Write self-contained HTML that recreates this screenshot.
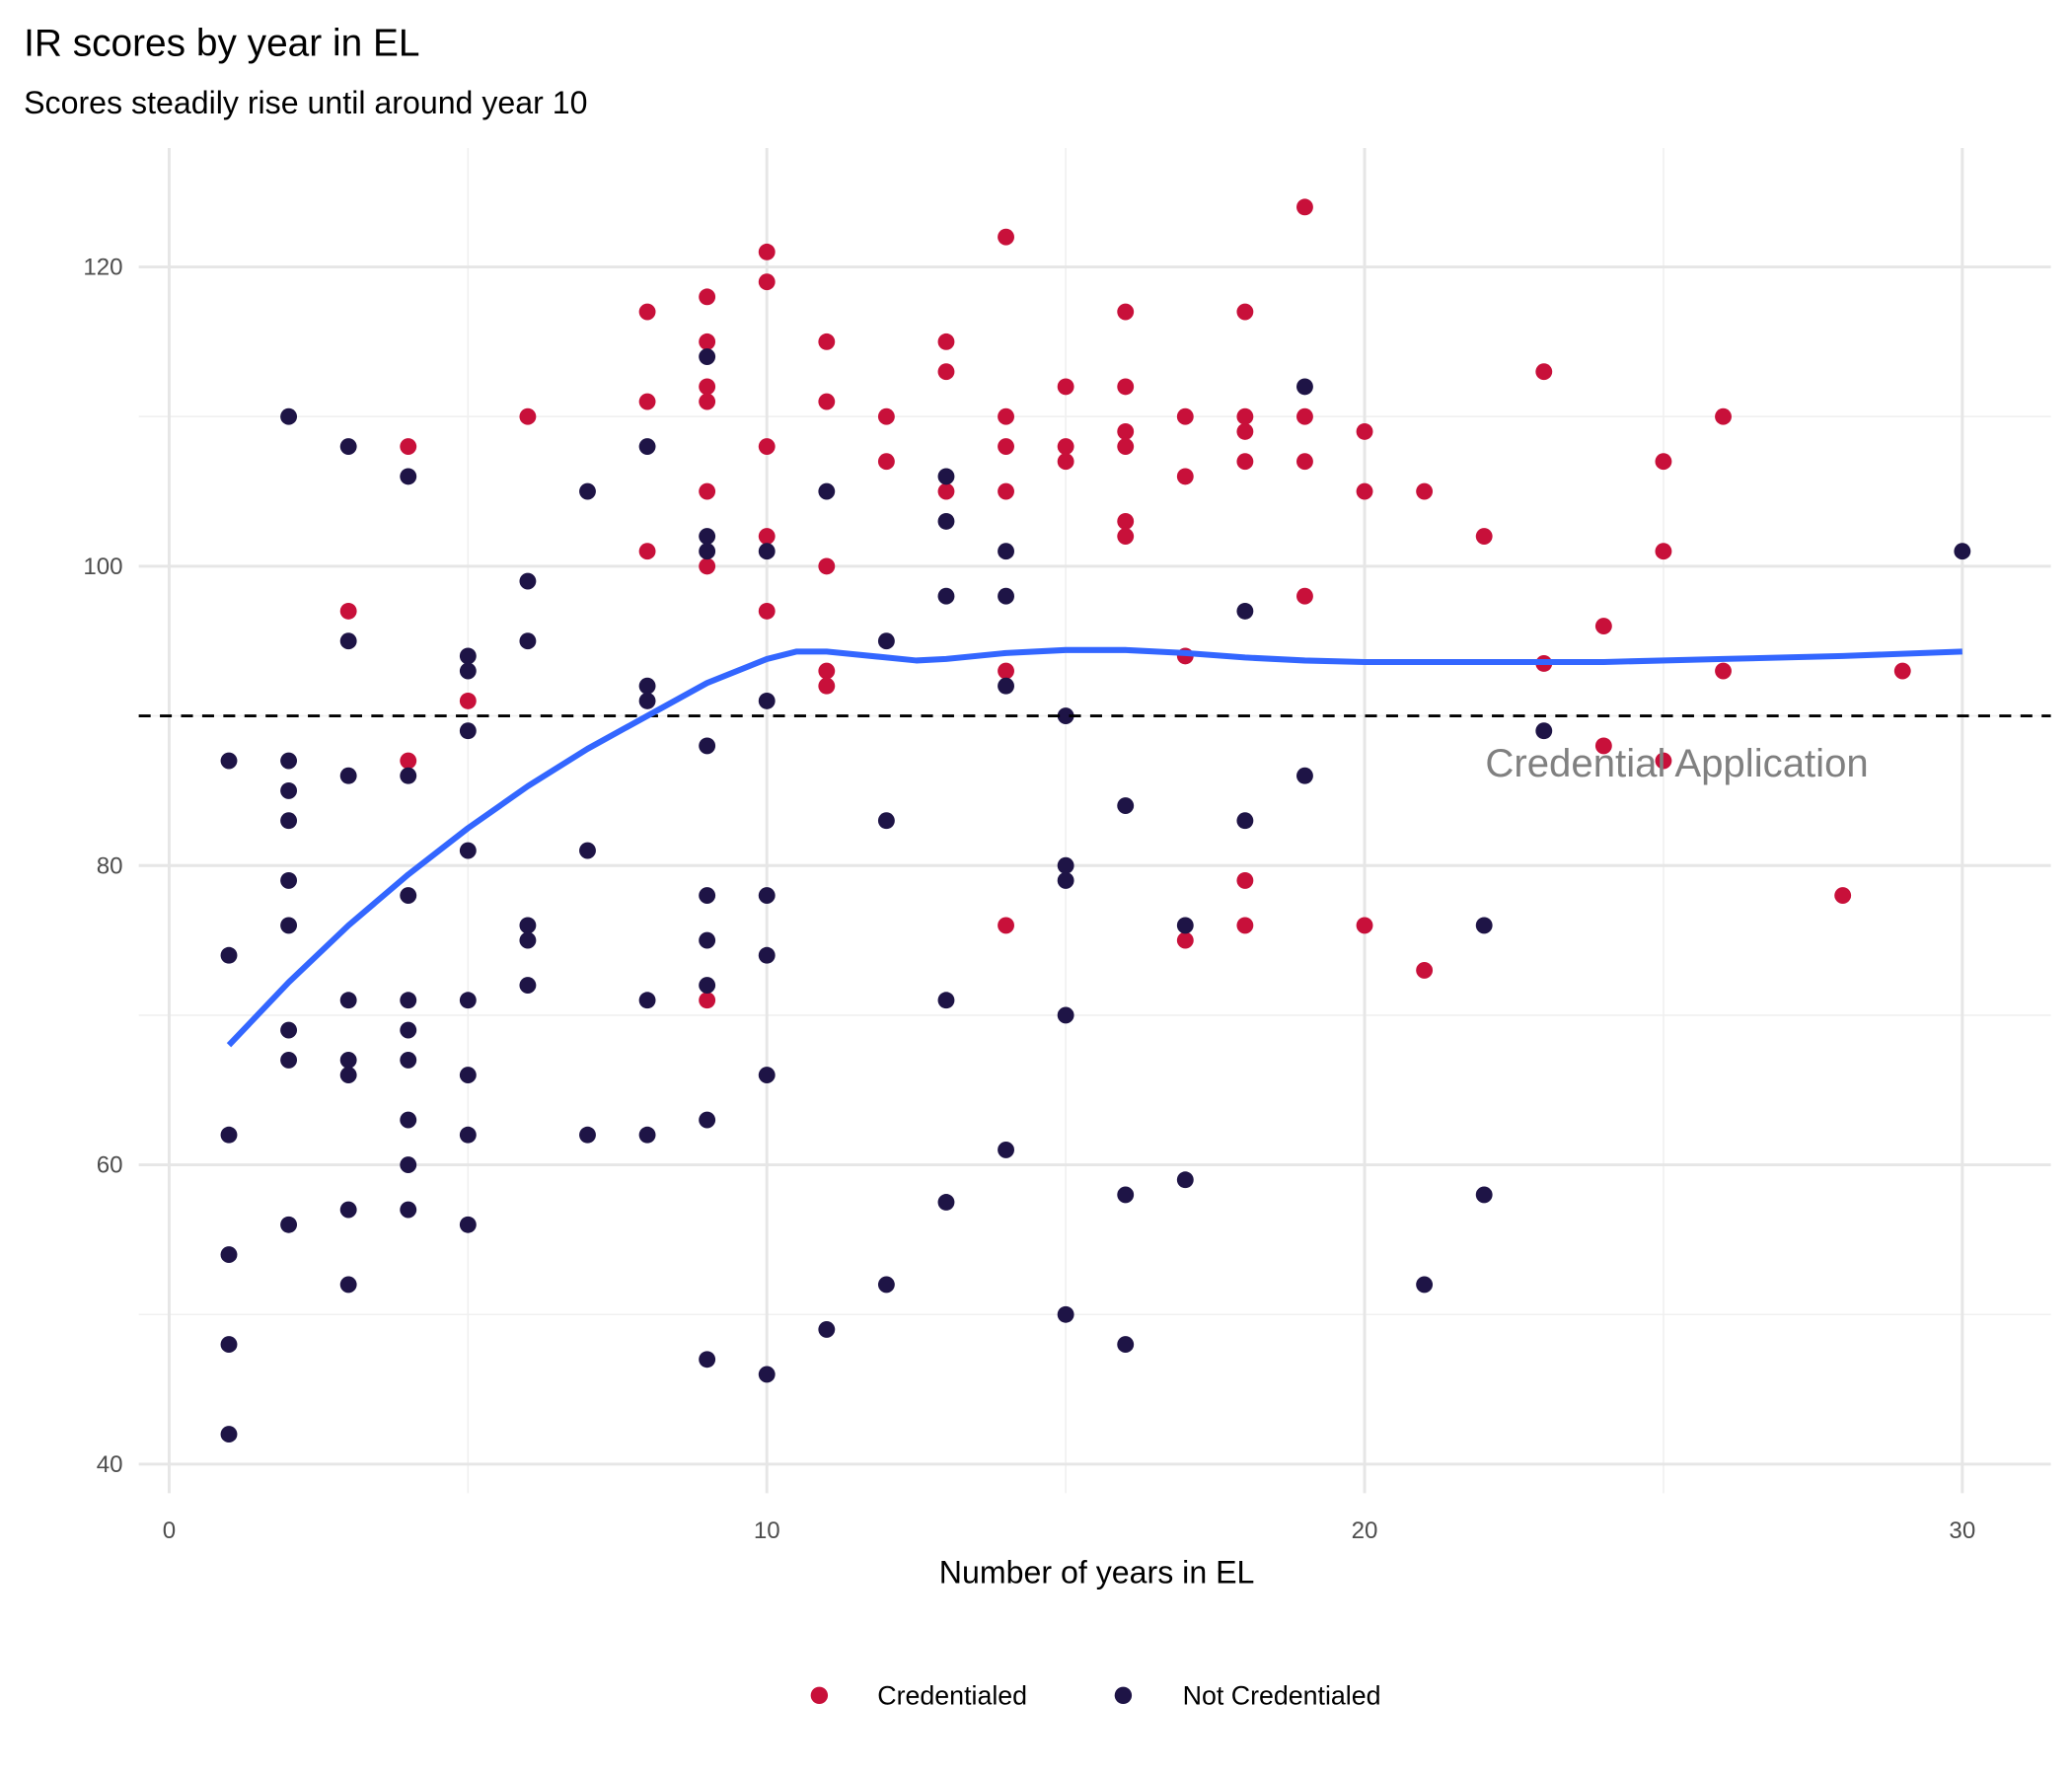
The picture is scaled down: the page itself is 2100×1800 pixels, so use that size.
<!DOCTYPE html>
<html><head><meta charset="utf-8"><style>
html,body{margin:0;padding:0;background:#fff;}
svg{display:block;font-family:"Liberation Sans",sans-serif;}
</style></head><body>
<svg id="chart" width="2100" height="1800" viewBox="0 0 1568 1344" xmlns="http://www.w3.org/2000/svg">
<text x="18" y="42" font-size="29" fill="#000">IR scores by year in EL</text>
<text x="18" y="86" font-size="24" fill="#000">Scores steadily rise until around year 10</text>
<g id="grid"></g>
<g id="marks"></g>
<text x="830" y="1198" font-size="24" text-anchor="middle" fill="#000">Number of years in EL</text>
<g>
<circle cx="620" cy="1283" r="6.5" fill="#c8103a"/>
<text x="664" y="1290" font-size="20">Credentialed</text>
<circle cx="850" cy="1283" r="6.5" fill="#1e1446"/>
<text x="895" y="1290" font-size="20">Not Credentialed</text>
</g>
</svg>
<script>
const xTicks=[0,10,20,30];
const xMinor=[5,15,25];
const yTicks=[40,60,80,100,120];
const yMinor=[50,70,90,110];
const credX=[3,4,4,5,6,8,8,8,9,9,9,9,9,9,9,10,10,10,10,10,11,11,11,11,11,12,12,13,13,13,14,14,14,14,14,14,15,15,15,16,16,16,16,16,16,17,17,17,17,18,18,18,18,18,18,19,19,19,19,20,20,20,21,21,22,23,23,24,24,25,25,25,26,26,28,29];
const credY=[97,108,87,91,110,117,111,101,118,115,112,111,105,100,71,121,119,108,102,97,115,111,100,93,92,110,107,115,113,105,122,110,108,105,93,76,112,108,107,117,112,109,108,103,102,110,106,94,75,117,110,109,107,79,76,124,110,107,98,109,105,76,105,73,102,113,93.5,96,88,107,101,87,110,93,78,93];
const notX=[1,1,1,1,1,1,2,2,2,2,2,2,2,2,2,3,3,3,3,3,3,3,3,4,4,4,4,4,4,4,4,4,5,5,5,5,5,5,5,5,6,6,6,6,6,7,7,7,8,8,8,8,8,9,9,9,9,9,9,9,9,9,10,10,10,10,10,10,11,11,12,12,12,13,13,13,13,13,14,14,14,14,15,15,15,15,15,16,16,16,17,17,18,18,19,19,21,22,22,23,30];
const notY=[87,74,62,54,48,42,110,87,85,83,79,76,69,67,56,108,95,86,71,67,66,57,52,106,86,78,71,69,67,63,60,57,94,93,89,81,71,66,62,56,99,95,76,75,72,105,81,62,108,92,91,71,62,114,102,101,88,78,75,72,63,47,101,91,78,74,66,46,105,49,95,83,52,106,103,98,71,57.5,101,98,92,61,90,80,79,70,50,84,58,48,76,59,97,83,112,86,52,76,58,89,101];
const smoothX=[1,2,3,4,5,6,7,8,9,10,10.5,11,12,12.5,13,14,15,16,17,18,19,20,22,24,26,28,30];
const smoothY=[68,72.2,76,79.4,82.5,85.3,87.8,90,92.2,93.8,94.3,94.3,93.9,93.7,93.8,94.2,94.4,94.4,94.2,93.9,93.7,93.6,93.6,93.6,93.8,94,94.3];
const threshold=90;

const NS="http://www.w3.org/2000/svg";
const sx=v=>128+v*(1485-128)/30;
const sy=v=>1108-(v-40)*(1108-202)/80;
const grid=document.getElementById('grid'),marks=document.getElementById('marks');
function mk(tag,attrs,parent){const e=document.createElementNS(NS,tag);for(const k in attrs)e.setAttribute(k,attrs[k]);parent.appendChild(e);return e;}
const L=105,R=1552,T=112,B=1130;
xMinor.forEach(v=>{const l=mk('line',{x1:sx(v),x2:sx(v),y1:T,y2:B,stroke:'#f0f0f0','stroke-width':1.2},grid);

});
yMinor.forEach(v=>{const l=mk('line',{x1:L,x2:R,y1:sy(v),y2:sy(v),stroke:'#f0f0f0','stroke-width':1.2},grid);

});
xTicks.forEach(v=>{const l=mk('line',{x1:sx(v),x2:sx(v),y1:T,y2:B,stroke:'#e6e6e6','stroke-width':2.2},grid);


const t=mk('text',{x:sx(v),y:1164,'font-size':18,'text-anchor':'middle',fill:'#4d4d4d'},grid);t.textContent=v;

});
yTicks.forEach(v=>{const l=mk('line',{x1:L,x2:R,y1:sy(v),y2:sy(v),stroke:'#e6e6e6','stroke-width':2.2},grid);


const t=mk('text',{x:93,y:sy(v)+6,'font-size':18,'text-anchor':'end',fill:'#4d4d4d'},grid);t.textContent=v;

});
credX.forEach((x,i)=>{const c=mk('circle',{cx:sx(x),cy:sy(credY[i]),r:6.3,fill:'#c8103a'},marks);

});
notX.forEach((x,i)=>{const c=mk('circle',{cx:sx(x),cy:sy(notY[i]),r:6.3,fill:'#1e1446'},marks);

});
const d=mk('line',{x1:L,x2:R,y1:sy(threshold),y2:sy(threshold),stroke:'#000','stroke-width':2.2,'stroke-dasharray':'9 7'},marks);


const lbl=mk('text',{x:1124,y:sy(threshold)+46,'font-size':30,fill:'#808080'},marks);lbl.textContent='Credential Application';


const p=mk('polyline',{points:smoothX.map((x,i)=>sx(x)+','+sy(smoothY[i])).join(' '),fill:'none',stroke:'#3366ff','stroke-width':4.5,'stroke-linejoin':'round'},marks);


</script>
</body></html>
